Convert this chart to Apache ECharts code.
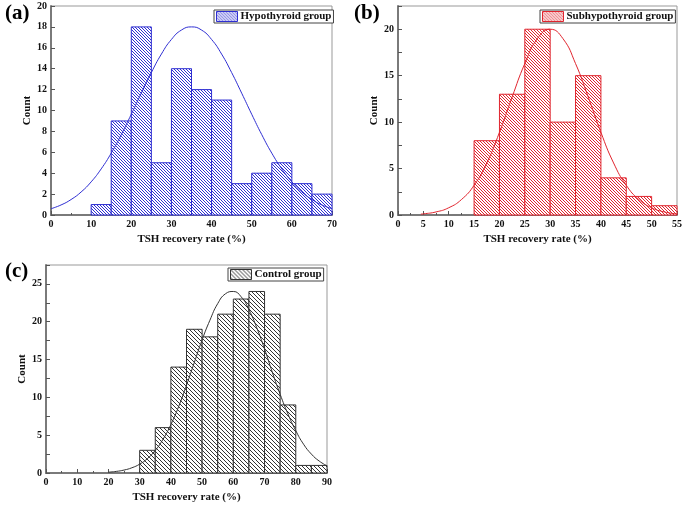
<!DOCTYPE html>
<html>
<head>
<meta charset="utf-8">
<script src="https://cdn.jsdelivr.net/npm/echarts@6/dist/echarts.min.js"></script>
<style>
  html, body { margin: 0; padding: 0; background: #fff; }
  #chart { width: 685px; height: 505px; }
</style>
</head>
<body>
<div id="chart"></div>
<script>
// (a) Hypothyroid group
const edgesA = [10, 15, 20, 25, 30, 35, 40, 45, 50, 55, 60, 65, 70]
const countsA = [1, 9, 18, 5, 14, 12, 11, 3, 4, 5, 3, 2]
const curveXA = [0, 2.5, 5, 7.5, 10, 12.5, 15, 17.5, 20, 22.5, 25, 27.5, 30, 32.5, 35, 37.5, 40, 42.5, 45, 47.5, 50, 52.5, 55, 57.5, 60, 62.5, 65, 67.5, 70]
const curveYA = [0.6, 0.96, 1.48, 2.2, 3.17, 4.41, 5.92, 7.69, 9.64, 11.66, 13.63, 15.4, 16.8, 17.7, 18, 17.7, 16.8, 15.4, 13.63, 11.66, 9.64, 7.69, 5.92, 4.41, 3.17, 2.2, 1.48, 0.96, 0.6]

// (b) Subhypothyroid group
const edgesB = [15, 20, 25, 30, 35, 40, 45, 50, 55]
const countsB = [8, 13, 20, 10, 15, 4, 2, 1]
const curveXB = [4.5, 5, 7.5, 10, 12.5, 15, 17.5, 20, 22.5, 25, 27.5, 30, 32.5, 35, 37.5, 40, 42.5, 45, 47.5, 50, 52.5, 55]
const curveYB = [0.1, 0.12, 0.33, 0.78, 1.66, 3.2, 5.6, 8.9, 12.7, 16.3, 19.0, 20, 19.0, 16.3, 12.7, 8.9, 5.6, 3.2, 1.66, 0.78, 0.33, 0.12]

// (c) Control group
const edgesC = [30, 35, 40, 45, 50, 55, 60, 65, 70, 75, 80, 85, 90]
const countsC = [3, 6, 14, 19, 18, 21, 23, 24, 21, 9, 1, 1]
const curveXC = [20, 22.5, 25, 27.5, 30, 32.5, 35, 37.5, 40, 42.5, 45, 47.5, 50, 52.5, 55, 57.5, 60, 62.5, 65, 67.5, 70, 72.5, 75, 77.5, 80, 82.5, 85, 87.5, 90]
const curveYC = [0.11, 0.21, 0.39, 0.69, 1.17, 1.91, 2.99, 4.47, 6.4, 8.8, 11.6, 14.6, 17.6, 20.2, 22.4, 23.7, 24.0, 23.3, 21.6, 19.2, 16.4, 13.3, 10.4, 7.8, 5.6, 3.8, 2.5, 1.58, 0.95]

const xTitle = 'TSH recovery rate (%)'
const yTitle = 'Count'
const font = 'Liberation Serif'

// hatch pattern "\\\\"
function hatch (color, size) {
    let c = document.createElement('canvas')
    c.width = size
    c.height = size
    let ctx = c.getContext('2d')
    ctx.fillStyle = '#fff'
    ctx.fillRect(0, 0, size, size)
    ctx.strokeStyle = color
    ctx.lineWidth = 1
    ctx.beginPath()
    ctx.moveTo(-1, -1); ctx.lineTo(size + 1, size + 1)
    ctx.moveTo(-1, size - 1); ctx.lineTo(1, size + 1)
    ctx.moveTo(size - 1, -1); ctx.lineTo(size + 1, 1)
    ctx.stroke()
    return {image: c, repeat: 'repeat'}
}

const panels = [
    {name: 'Hypothyroid group', color: '#2e2ed2', hatchSize: 3, edges: edgesA, counts: countsA, cx: curveXA, cy: curveYA,
        xMax: 70, xInt: 10, yMax: 20, yInt: 2, yStep: 2},
    {name: 'Subhypothyroid group', color: '#e0252e', hatchSize: 3, edges: edgesB, counts: countsB, cx: curveXB, cy: curveYB,
        xMax: 55, xInt: 5, yMax: 22.5, yInt: 2.5, yStep: 5},
    {name: 'Control group', color: '#333333', hatchSize: 4, edges: edgesC, counts: countsC, cx: curveXC, cy: curveYC,
        xMax: 90, xInt: 10, yMax: 27.5, yInt: 2.5, yStep: 5}
]

const grids = [
    {left: 51, top: 6, width: 281, height: 209},
    {left: 398, top: 6, width: 280, height: 209},
    {left: 46, top: 265, width: 281, height: 208}
]
const legendPos = [
    {left: 214, top: 10},
    {left: 540, top: 10},
    {left: 228, top: 268}
]

let xAxis = []
let yAxis = []
let series = []
let legend = []

panels.forEach((p, i) => {
    let pattern = hatch(p.color, p.hatchSize)
    xAxis.push({
        type: 'value', gridIndex: i, min: 0, max: p.xMax, interval: p.xInt,
        name: xTitle, nameLocation: 'middle', nameGap: 19,
        nameTextStyle: {fontFamily: font, fontWeight: 'bold', fontSize: 11, color: '#111'},
        axisLine: {onZero: false, lineStyle: {color: '#7a7a7a', width: 2}},
        axisTick: {inside: true, length: 4, lineStyle: {color: '#555'}},
        minorTick: {show: true, splitNumber: 2, length: 2, lineStyle: {color: '#555'}},
        splitLine: {show: false},
        axisLabel: {fontFamily: font, fontWeight: 'bold', fontSize: 10, color: '#111', margin: 4}
    })
    yAxis.push({
        type: 'value', gridIndex: i, min: 0, max: p.yMax, interval: p.yInt,
        name: yTitle, nameLocation: 'middle', nameGap: 17,
        nameTextStyle: {fontFamily: font, fontWeight: 'bold', fontSize: 11, color: '#111'},
        axisLine: {onZero: false, lineStyle: {color: '#7a7a7a', width: 2}},
        axisTick: {inside: true, length: 4, lineStyle: {color: '#555'}},
        splitLine: {show: false},
        axisLabel: {
            fontFamily: font, fontWeight: 'bold', fontSize: 10, color: '#111', margin: 4,
            formatter: v => (v % p.yStep === 0 ? v : '')
        }
    })
    series.push({
        name: p.name,
        type: 'custom',
        xAxisIndex: i,
        yAxisIndex: i,
        itemStyle: {color: pattern, borderColor: p.color, borderWidth: 1},
        data: p.counts.map((c, k) => [p.edges[k], p.edges[k + 1], c]),
        renderItem: function (params, api) {
            let p0 = api.coord([api.value(0), 0])
            let p1 = api.coord([api.value(1), api.value(2)])
            return {
                type: 'rect',
                shape: {x: p0[0], y: p1[1], width: p1[0] - p0[0], height: p0[1] - p1[1]},
                style: {fill: pattern, stroke: p.color, lineWidth: 1}
            }
        },
        encode: {x: [0, 1], y: 2},
        silent: true
    })
    series.push({
        type: 'line',
        xAxisIndex: i,
        yAxisIndex: i,
        smooth: true,
        showSymbol: false,
        lineStyle: {color: p.color, width: 1},
        data: p.cx.map((x, k) => [x, p.cy[k]]),
        z: 5,
        silent: true
    })
    legend.push(Object.assign({
        selectedMode: false,
        orient: 'horizontal',
        padding: [1, 2, 1, 2],
        borderColor: '#444',
        borderWidth: 1,
        backgroundColor: '#fff',
        itemWidth: 21,
        itemHeight: 10,
        itemGap: 3,
        textStyle: {fontFamily: font, fontWeight: 'bold', fontSize: 11, color: '#111', padding: [0, 0, 0, -2]},
        data: [{name: p.name, icon: 'rect', itemStyle: {color: pattern, borderColor: p.color, borderWidth: 1}}]
    }, legendPos[i]))
})

let myChart = echarts.init(document.getElementById('chart'))
myChart.setOption({
    animation: false,
    title: [
        {text: '(a)', left: 0, top: -2, textStyle: {fontFamily: font, fontWeight: 'bold', fontSize: 21, color: '#000'}},
        {text: '(b)', left: 349, top: -2, textStyle: {fontFamily: font, fontWeight: 'bold', fontSize: 21, color: '#000'}},
        {text: '(c)', left: 0, top: 256, textStyle: {fontFamily: font, fontWeight: 'bold', fontSize: 21, color: '#000'}}
    ],
    grid: grids.map(g => Object.assign({show: true, borderColor: '#999', borderWidth: 1, backgroundColor: 'transparent'}, g)),
    legend: legend,
    xAxis: xAxis,
    yAxis: yAxis,
    series: series
})
</script>
</body>
</html>
